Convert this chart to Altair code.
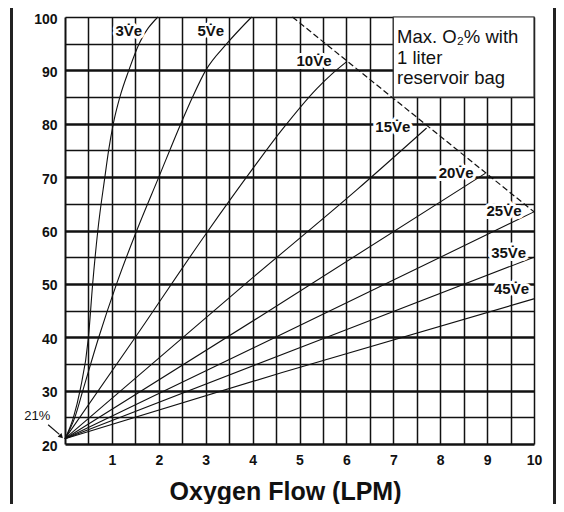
import altair as alt
import pandas as pd

# ---- data ----
ve3_flow = [0, 0.18, 0.32, 0.50, 0.59, 0.70, 0.85, 0.93, 1.03, 1.17, 1.36, 1.58, 1.98]
ve3_o2 = [21, 25, 30, 40, 50, 60, 70, 75, 80, 85, 90, 95, 100]
ve5_flow = [0, 0.21, 0.38, 0.72, 1.1, 1.53, 2.0, 2.47, 2.72, 3.0, 3.45, 3.98]
ve5_o2 = [21, 25, 30, 40, 50, 60, 70, 80, 85, 90, 95, 100]
ve10_flow = [0, 1.5, 3.0, 3.98, 4.62, 5.37, 5.7, 6.0]
ve10_o2 = [21, 40, 59.3, 71.3, 78.8, 86.6, 89.4, 91.6]
ve15_flow = [0, 3.94, 6.22, 7.71]
ve15_o2 = [21, 50.7, 67.6, 79.2]
ve20_flow = [0, 4.16, 8.96]
ve20_o2 = [21, 43.9, 70.7]
ve25_flow = [0, 4.51, 10]
ve25_o2 = [21, 40.1, 63.5]
ve35_flow = [0, 5.61, 10]
ve35_o2 = [21, 40.1, 55.0]
ve45_flow = [0, 4.63, 10]
ve45_o2 = [21, 33.4, 47.2]

bag_flow = [4.85, 10]
bag_o2 = [100, 63.5]

label_text = ["3V̇e", "5V̇e", "10V̇e", "15V̇e", "20V̇e", "25V̇e", "35V̇e", "45V̇e"]
label_flow = [1.36, 3.11, 5.31, 6.99, 8.34, 9.36, 9.46, 9.52]
label_o2 = [97.3, 97.3, 91.8, 79.4, 70.8, 63.7, 55.8, 49.0]

box_flow = [7]
box_flow_end = [10]
box_o2 = [85]
box_o2_end = [100]

legend_lines = ["Max. O₂% with", "1 liter", "reservoir bag"]
legend_flow = [7.08, 7.08, 7.08]
legend_o2 = [96.3, 92.4, 88.5]

note_text = ["21%"]
note_flow = [-0.59]
note_o2 = [25.2]
arrow_flow = [-0.36]
arrow_o2 = [23.6]
arrow_flow_end = [-0.12]
arrow_o2_end = [21.8]
head_flow = [-0.08]
head_o2 = [21.4]

x_grid = [0, 0.5, 1, 1.5, 2, 2.5, 3, 3.5, 4, 4.5, 5, 5.5, 6, 6.5, 7, 7.5, 8, 8.5, 9, 9.5, 10]
y_grid = [20, 25, 30, 35, 40, 45, 50, 55, 60, 65, 70, 75, 80, 85, 90, 95, 100]

# ---- tables ----
curves = [("3", ve3_flow, ve3_o2), ("5", ve5_flow, ve5_o2), ("10", ve10_flow, ve10_o2),
          ("15", ve15_flow, ve15_o2), ("20", ve20_flow, ve20_o2), ("25", ve25_flow, ve25_o2),
          ("35", ve35_flow, ve35_o2), ("45", ve45_flow, ve45_o2)]
rows = []
for name, fl, o2 in curves:
    for f, o in zip(fl, o2):
        rows.append({"ve": name, "flow": f, "o2": o})
curve_df = pd.DataFrame(rows)
bag_df = pd.DataFrame({"flow": bag_flow, "o2": bag_o2})
label_df = pd.DataFrame({"flow": label_flow, "o2": label_o2, "label": label_text})
box_df = pd.DataFrame({"flow": box_flow, "flow2": box_flow_end, "o2": box_o2, "o2b": box_o2_end})
legend_df = pd.DataFrame({"flow": legend_flow, "o2": legend_o2, "label": legend_lines})
note_df = pd.DataFrame({"flow": note_flow, "o2": note_o2, "label": note_text})
arrow_df = pd.DataFrame({"flow": arrow_flow, "o2": arrow_o2, "flow2": arrow_flow_end, "o2b": arrow_o2_end})
head_df = pd.DataFrame({"flow": head_flow, "o2": head_o2})

INK = "#111111"
FONT = "Liberation Sans"

xs = alt.Scale(domain=[0, 10], nice=False, zero=False)
ys = alt.Scale(domain=[20, 100], nice=False, zero=False)

x_axis = alt.Axis(
    values=x_grid, grid=True, ticks=False, domain=False,
    labelExpr="datum.value >= 1 && datum.value % 1 === 0 ? format(datum.value, 'd') : ''",
    labelPadding=9, labelFontSize=14, labelFontWeight="bold", labelColor=INK,
    labelOverlap=False, labelFlush=False,
    gridColor=INK, gridOpacity=1,
    gridWidth={"condition": {"test": "datum.value === 0", "value": 2.0}, "value": 1.5},
    title="Oxygen Flow (LPM)", titleFontSize=25, titleFontWeight="bold", titleColor=INK,
    titleX=220, titleY=55, titleAlign="center", titleBaseline="alphabetic", titleFont=FONT,
)
y_axis = alt.Axis(
    values=y_grid, grid=True, ticks=False, domain=False,
    labelExpr="datum.value % 10 === 0 ? format(datum.value, 'd') : ''",
    labelPadding=8, labelOffset=2, labelFontSize=14, labelFontWeight="bold", labelColor=INK,
    labelOverlap=False, labelFlush=False,
    gridColor=INK, gridOpacity=1,
    gridWidth={"condition": {"test": "datum.value % 10 === 0 && datum.value < 100", "value": 2.3}, "value": 1.3},
    title=None,
)

X = alt.X("flow:Q", scale=xs, axis=x_axis)
Y = alt.Y("o2:Q", scale=ys, axis=y_axis)

box = alt.Chart(box_df).mark_rect(fill="white", stroke="#333333", strokeWidth=1.2).encode(
    x=X, x2="flow2:Q", y=Y, y2="o2b:Q")

lines = alt.Chart(curve_df).mark_line(color=INK, strokeWidth=1.1, interpolate="monotone").encode(
    x=X, y=Y, detail="ve:N", order="flow:Q")

bag = alt.Chart(bag_df).mark_line(color=INK, strokeWidth=1.2, strokeDash=[6, 3]).encode(x=X, y=Y)

halo = alt.Chart(label_df).mark_text(
    font=FONT, fontSize=15, fontWeight="bold", fill="white", stroke="white",
    strokeWidth=6, strokeJoin="round", baseline="middle", align="center").encode(
    x=X, y=Y, text="label:N")
labels = alt.Chart(label_df).mark_text(
    font=FONT, fontSize=15, fontWeight="bold", color=INK, baseline="middle", align="center").encode(
    x=X, y=Y, text="label:N")

legend_txt = alt.Chart(legend_df).mark_text(
    font=FONT, fontSize=18.5, color=INK, align="left", baseline="middle").encode(
    x=X, y=Y, text="label:N")

note = alt.Chart(note_df).mark_text(
    font=FONT, fontSize=13, color=INK, align="center", baseline="middle").encode(
    x=X, y=Y, text="label:N")
arrow = alt.Chart(arrow_df).mark_rule(color=INK, strokeWidth=1.2).encode(
    x=X, y=Y, x2="flow2:Q", y2="o2b:Q")
head = alt.Chart(head_df).mark_point(
    shape="triangle-up", angle=135, filled=True, size=30, color=INK, opacity=1).encode(x=X, y=Y)

frame_left = alt.Chart().mark_rule(color="#222222", strokeWidth=3).encode(
    x=alt.value(-53.5), y=alt.value(-9), y2=alt.value(487))
frame_right = alt.Chart().mark_rule(color="#222222", strokeWidth=3).encode(
    x=alt.value(489.5), y=alt.value(-9), y2=alt.value(487))

chart = alt.layer(
    box, lines, bag, halo, labels, legend_txt, note, arrow, head, frame_left, frame_right
).properties(
    width=469, height=427,
    autosize=alt.AutoSizeParams(type="none"),
    padding={"left": 57, "top": 9, "right": 22, "bottom": 60},
    background="white",
).configure_view(stroke=None).configure(font=FONT)

chart.save("out.html", embed_options={"renderer": "svg", "actions": False})
